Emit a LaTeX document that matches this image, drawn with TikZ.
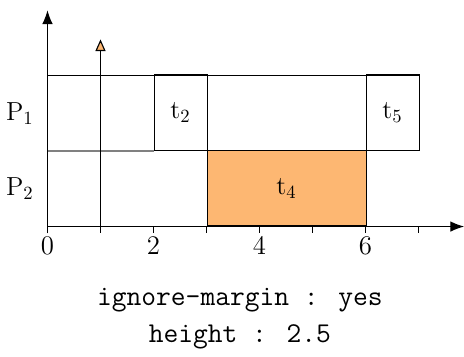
\documentclass[tikz,border=0pt]{standalone}
\usepackage{xcolor}
\usepackage{tikz}
\usetikzlibrary{arrows.meta, positioning}

\definecolor{taskorange}{RGB}{253,183,114}

\begin{document}
\begin{tikzpicture}[
  every node/.style={font=\fontsize{14}{16}\selectfont},
  task/.style={draw, line width=0.6pt, anchor=south west, inner sep=0pt, minimum height=1.425cm},
  axis/.style={line width=0.6pt, -{Latex[length=2.6mm, width=2mm]}},
  marker/.style={line width=0.6pt, -{Triangle[length=2.2mm, width=1.9mm, fill=taskorange]}},
  caption/.style={font=\fontsize{15.4}{18}\selectfont\ttfamily}
]
\useasboundingbox (-0.896,-2.443) rectangle (7.858,4.274);

% --- Rows ---
\draw[line width=0.6pt] (0,2.85) -- (7,2.85);
\draw[line width=0.6pt, gray] (0,1.425) -- (2,1.425);

% --- Tasks ---
\node[task, minimum width=1cm] (t2) at (2,1.425) {t$_2$};
\node[task, minimum width=3cm, fill=taskorange] (t4) at (3,0) {t$_4$};
\node[task, minimum width=1cm] (t5) at (6,1.425) {t$_5$};

% --- Processor labels ---
\node (p1) at (-0.52,2.14) {P$_1$};
\node (p2) at (-0.52,0.72) {P$_2$};

% --- Axes ---
\coordinate (origin) at (0,0);
\coordinate (xend) at (7.86,0);
\coordinate (yend) at (0,4.08);
\draw[axis] (origin) -- (xend);
\draw[axis] (0,-0.13) -- (yend);
\foreach \t in {1,...,7} \draw[line width=0.6pt] (\t,0) -- (\t,-0.13);
\foreach \t in {0,2,4,6} \node (tick\t) at (\t,-0.37) {$\t$};

% --- Release marker ---
\coordinate (release) at (1,3.53);
\draw[marker] (1,0) -- (release);

% --- Caption ---
\node[caption] (margin) at (3.63,-1.39) {ignore-margin : yes};
\node[caption] (height) at (3.63,-2.09) {height : 2.5};

\end{tikzpicture}
\end{document}
